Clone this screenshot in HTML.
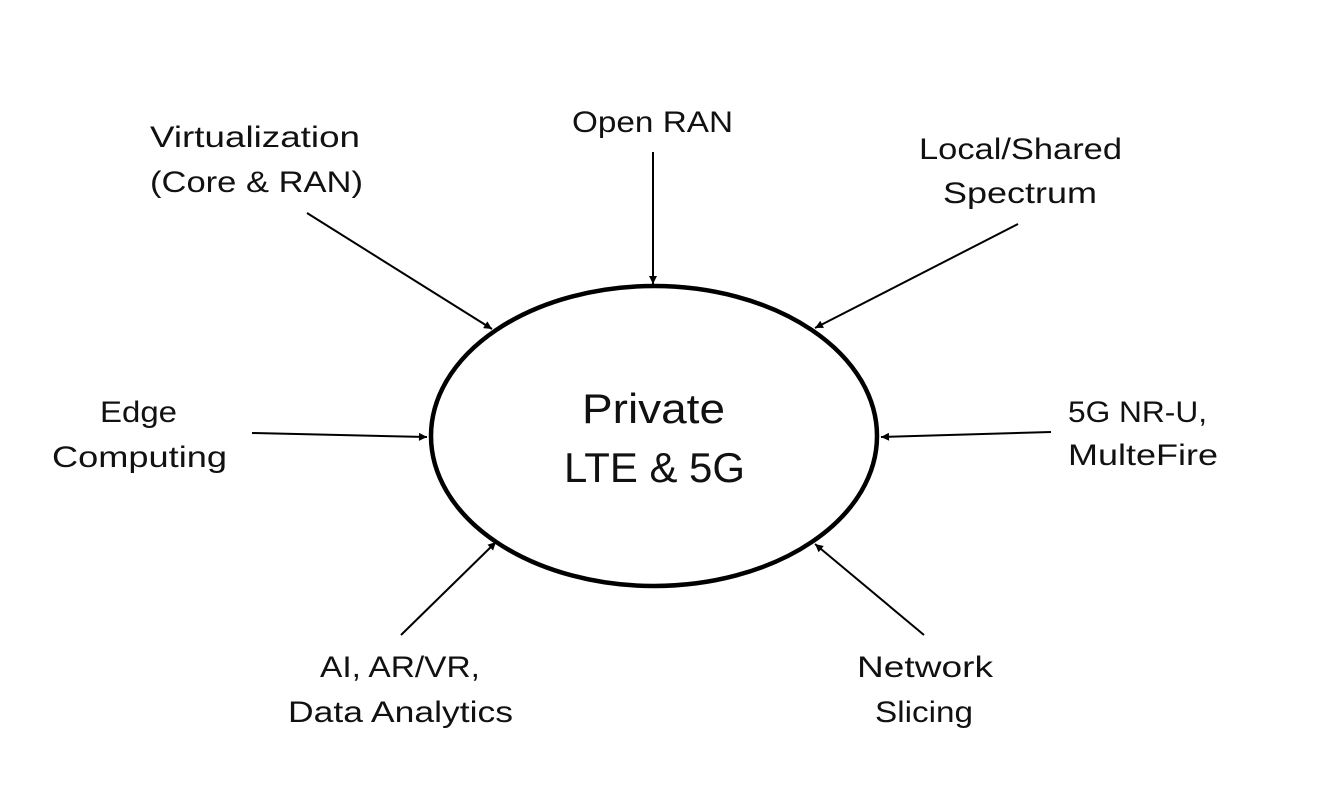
<!DOCTYPE html>
<html>
<head>
<meta charset="utf-8">
<style>
html,body{margin:0;padding:0;background:#fff;}
svg{display:block;}
text{font-family:"Liberation Sans",sans-serif;fill:#111;}
</style>
</head>
<body>
<svg width="1338" height="788" viewBox="0 0 1338 788" xmlns="http://www.w3.org/2000/svg">
<defs>
<marker id="ah" viewBox="0 0 10 10" refX="10" refY="5" markerWidth="10" markerHeight="8" markerUnits="userSpaceOnUse" orient="auto">
<path d="M0,0 L10,5 L0,10 z" fill="#000"/>
</marker>
</defs>
<rect width="1338" height="788" fill="#fff"/>
<ellipse cx="654" cy="436" rx="223" ry="150" fill="none" stroke="#000" stroke-width="4.5"/>

<g stroke="#000" stroke-width="2" fill="none" marker-end="url(#ah)">
<line x1="653" y1="152" x2="653" y2="284"/>
<line x1="307" y1="213" x2="492" y2="329"/>
<line x1="1018" y1="224" x2="815" y2="328"/>
<line x1="252" y1="433" x2="427" y2="437"/>
<line x1="1051" y1="432" x2="881" y2="437"/>
<line x1="401" y1="635" x2="496" y2="542"/>
<line x1="924" y1="635" x2="815" y2="544"/>
</g>

<g font-size="42">
<text x="582" y="423" textLength="143" lengthAdjust="spacingAndGlyphs">Private</text>
<text x="564" y="482" textLength="181" lengthAdjust="spacingAndGlyphs">LTE &amp; 5G</text>
</g>

<g font-size="30">
<text x="572" y="132" textLength="161" lengthAdjust="spacingAndGlyphs">Open RAN</text>
<text x="150" y="147" textLength="210" lengthAdjust="spacingAndGlyphs">Virtualization</text>
<text x="150" y="192" textLength="213" lengthAdjust="spacingAndGlyphs">(Core &amp; RAN)</text>
<text x="919" y="159" textLength="203" lengthAdjust="spacingAndGlyphs">Local/Shared</text>
<text x="943" y="203" textLength="154" lengthAdjust="spacingAndGlyphs">Spectrum</text>
<text x="100" y="422" textLength="77" lengthAdjust="spacingAndGlyphs">Edge</text>
<text x="52" y="467" textLength="175" lengthAdjust="spacingAndGlyphs">Computing</text>
<text x="1068" y="422" textLength="139" lengthAdjust="spacingAndGlyphs">5G NR-U,</text>
<text x="1068" y="465" textLength="150" lengthAdjust="spacingAndGlyphs">MulteFire</text>
<text x="320" y="677" textLength="160" lengthAdjust="spacingAndGlyphs">AI, AR/VR,</text>
<text x="288" y="722" textLength="225" lengthAdjust="spacingAndGlyphs">Data Analytics</text>
<text x="857" y="677" textLength="136" lengthAdjust="spacingAndGlyphs">Network</text>
<text x="875" y="722" textLength="98" lengthAdjust="spacingAndGlyphs">Slicing</text>
</g>
</svg>
</body>
</html>
